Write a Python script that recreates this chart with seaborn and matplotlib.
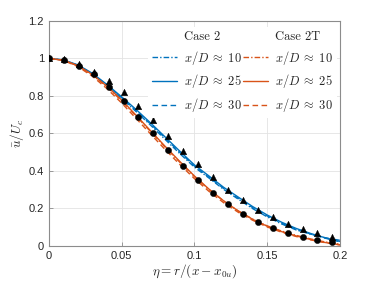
import matplotlib
matplotlib.use('Agg')
import matplotlib.pyplot as plt
import seaborn as sns
import numpy as np
import pandas as pd

# model curves, read at eta = 0, 0.01, ..., 0.2
eta_line = [0.00, 0.01, 0.02, 0.03, 0.04, 0.05, 0.06, 0.07, 0.08, 0.09, 0.10,
            0.11, 0.12, 0.13, 0.14, 0.15, 0.16, 0.17, 0.18, 0.19, 0.20]
case2_10 = [1, .991, .962, .915, .853, .786, .716, .643, .567, .492, .420,
            .362, .302, .250, .199, .155, .117, .085, .062, .043, .030]
case2_25 = [1, .992, .965, .920, .860, .795, .727, .655, .580, .505, .432,
            .373, .313, .261, .210, .165, .126, .093, .066, .043, .024]
case2_30 = [1, .991, .963, .917, .856, .790, .721, .649, .574, .499, .426,
            .366, .307, .255, .204, .160, .121, .089, .063, .041, .022]
case2t_10 = [1, .990, .960, .911, .848, .774, .692, .609, .526, .446, .370,
             .301, .240, .187, .143, .107, .079, .056, .037, .021, .009]
case2t_25 = [1, .990, .961, .913, .851, .778, .696, .613, .530, .450, .373,
             .303, .241, .187, .142, .105, .076, .053, .034, .018, .006]
case2t_30 = [1, .989, .956, .904, .838, .762, .679, .596, .513, .434, .359,
             .291, .231, .180, .137, .101, .073, .050, .032, .017, .005]

# experimental points
eta_pts = [0.0, 0.0103, 0.0205, 0.0308, 0.0410, 0.0513, 0.0615, 0.0718,
           0.0821, 0.0923, 0.1026, 0.1128, 0.1231, 0.1334, 0.1436, 0.1539,
           0.1641, 0.1744, 0.1846, 0.1949]
case2_pts = [1.0, .995, .969, .930, .880, .820, .746, .672, .588, .508,
             .437, .365, .300, .245, .192, .155, .117, .091, .068, .046]
case2t_pts = [1.0, .990, .960, .915, .849, .772, .685, .601, .510, .428,
              .352, .281, .222, .171, .128, .094, .069, .046, .032, .021]

blue = '#0072BD'
orange = '#D95319'

sns.set_style('ticks')
plt.rcParams['font.family'] = ['Liberation Sans', 'DejaVu Sans']
plt.rcParams['mathtext.fontset'] = 'cm'

fig = plt.figure(figsize=(3.76, 2.82), dpi=100)
ax = fig.add_axes([0.130, 0.128, 0.774, 0.798])

lines = pd.DataFrame({'eta': eta_line,
                      'c2_10': case2_10, 'c2_25': case2_25, 'c2_30': case2_30,
                      'c2t_10': case2t_10, 'c2t_25': case2t_25, 'c2t_30': case2t_30})

styles = {'10': (0, (4, 1.5, 1, 1.5)), '25': '-', '30': (0, (4, 2.5))}
handles = {}
for key, col in [('c2', blue), ('c2t', orange)]:
    for d in ['10', '25', '30']:
        sns.lineplot(data=lines, x='eta', y=f'{key}_{d}', ax=ax, color=col,
                     linewidth=1.0, linestyle=styles[d])
        handles[f'{key}_{d}'] = plt.Line2D([], [], color=col, linewidth=1.0,
                                           linestyle=styles[d])

sns.scatterplot(x=eta_pts, y=case2_pts, ax=ax, marker='^', color='black',
                s=22, edgecolor='black', linewidth=0.3, zorder=5)
sns.scatterplot(x=eta_pts, y=case2t_pts, ax=ax, marker='o', color='black',
                s=20, edgecolor='black', linewidth=0.3, zorder=5)

ax.set_xlim(0, 0.2)
ax.set_ylim(0, 1.2)
ax.set_xticks([0, 0.05, 0.1, 0.15, 0.2])
ax.set_xticklabels(['0', '0.05', '0.1', '0.15', '0.2'])
ax.set_yticks([0, 0.2, 0.4, 0.6, 0.8, 1.0, 1.2])
ax.set_yticklabels(['0', '0.2', '0.4', '0.6', '0.8', '1', '1.2'])
ax.grid(True, color='#e3e3e3', linewidth=0.6)
ax.set_axisbelow(True)
for sp in ax.spines.values():
    sp.set_visible(True)
    sp.set_color('#8c8c8c')
    sp.set_linewidth(0.8)
ax.tick_params(direction='in', length=3, width=0.6, colors='#8c8c8c',
               labelcolor='#262626', labelsize=8, top=False, right=False)

ax.set_xlabel(r'$\eta = r/(x - x_{0u})$', fontsize=9.5, labelpad=1, color='#262626')
ax.set_ylabel(r'$\bar{u}/U_c$', fontsize=9.5, labelpad=2, color='#262626')

blank = plt.Line2D([], [], color='none')
lab = r'$x/D\;\approx\;%s$'
leg_h = [blank, handles['c2_10'], handles['c2_25'], handles['c2_30'],
         blank, handles['c2t_10'], handles['c2t_25'], handles['c2t_30']]
leg_l = ['Case 2', lab % '10', lab % '25', lab % '30',
         'Case 2T', lab % '10', lab % '25', lab % '30']
leg = ax.legend(leg_h, leg_l, ncol=2, loc='upper right',
                bbox_to_anchor=(1.0, 0.985), frameon=True, fontsize=9,
                handlelength=2.0, handletextpad=0.6, columnspacing=0.05,
                labelspacing=0.45, borderpad=0.3, borderaxespad=0.25)
leg.get_frame().set_edgecolor('none')
leg.get_frame().set_facecolor('white')
leg.get_frame().set_alpha(1.0)
for i in (0, 4):
    leg.get_texts()[i].set_fontfamily('cmr10')

fig.savefig('out.png', dpi=100)
